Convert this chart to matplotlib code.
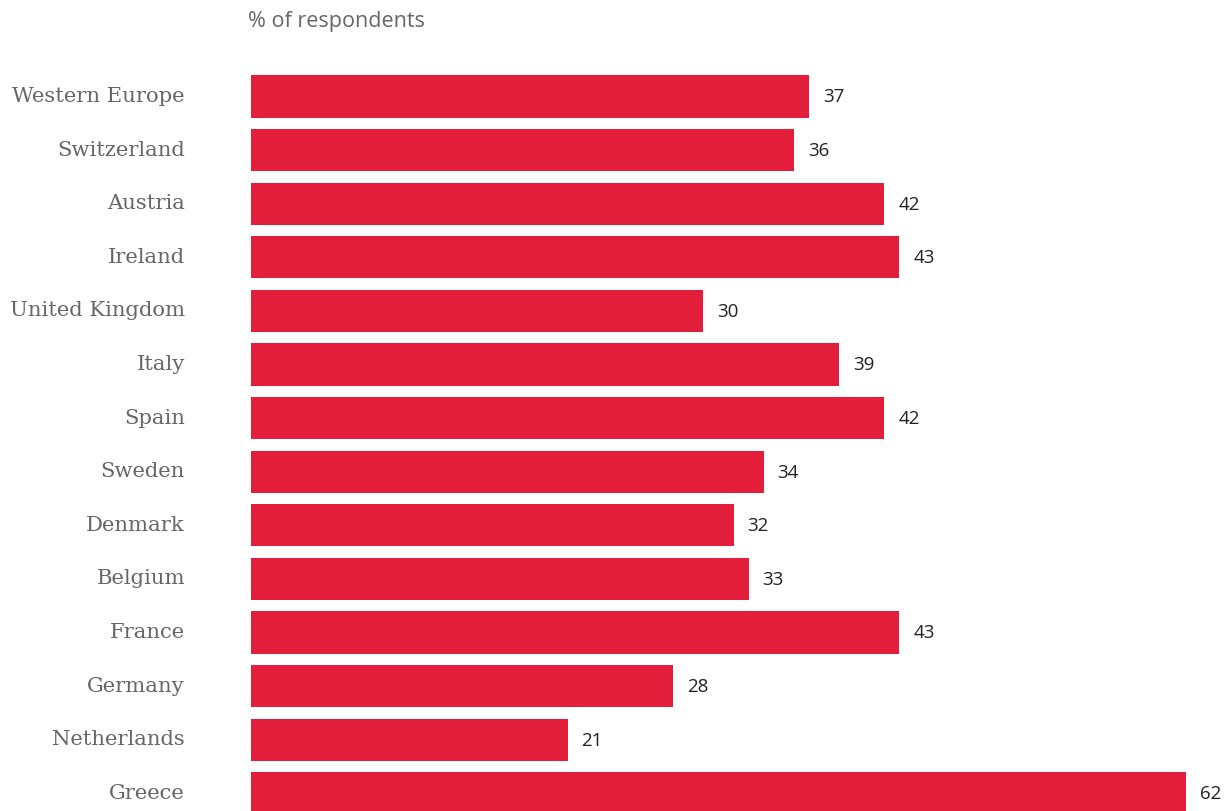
import matplotlib
matplotlib.use("Agg")
import matplotlib.pyplot as plt
from matplotlib.transforms import ScaledTranslation

countries = ["Western Europe", "Switzerland", "Austria", "Ireland", "United Kingdom",
             "Italy", "Spain", "Sweden", "Denmark", "Belgium", "France", "Germany",
             "Netherlands", "Greece"]
values = [37, 36, 42, 43, 30, 39, 42, 34, 32, 33, 43, 28, 21, 62]

BAR_COLOR = "#E31E3A"
W, H = 1228, 812

fig = plt.figure(figsize=(W / 100, H / 100), dpi=100)
ax = fig.add_axes([251 / W, 0, (W - 251) / W, (H - 50) / H])

pos = list(range(len(countries)))
ax.barh(pos, values, height=0.784, color=BAR_COLOR, align="center")
ax.set_xlim(0, (W - 251) / 15.08)
ax.set_ylim((H - 97.5) / 53.6, (50 - 97.5) / 53.6)

for p, v in zip(pos, values):
    ax.annotate(f"{v}", (v, p), xytext=(10, 0), textcoords="offset points",
                ha="left", va="center", fontsize=13.5, family="Open Sans",
                color="#222222")

ax.set_yticks(pos)
ax.set_yticklabels(countries, family="DejaVu Serif", fontsize=15.2, color="#666666")
ax.tick_params(axis="y", length=0, pad=(251 - 185) * 0.72)
lift = ScaledTranslation(0, 3 / 100, fig.dpi_scale_trans)
for lbl in ax.get_yticklabels():
    lbl.set_transform(lbl.get_transform() + lift)
ax.set_xticks([])
for s in ax.spines.values():
    s.set_visible(False)

fig.text(248 / W, 1 - 21 / H, "% of respondents", ha="left", va="center",
         fontsize=15.5, family="Open Sans", color="#666666")

fig.savefig("out.png", dpi=100)
